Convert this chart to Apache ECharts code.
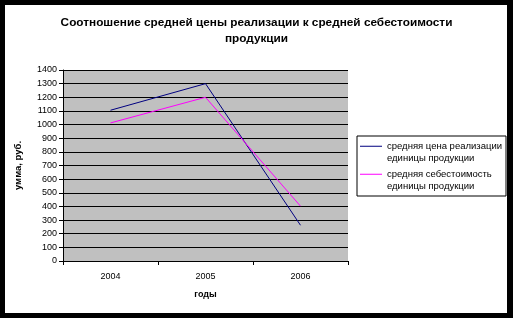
<!DOCTYPE html>
<html><head><meta charset="utf-8">
<script src="https://cdn.jsdelivr.net/npm/echarts@6/dist/echarts.min.js"></script>
<style>
html,body{margin:0;padding:0;background:#000;}
#bg{position:absolute;left:5px;top:5px;width:502px;height:308px;background:#fff;}
#main{position:absolute;left:0;top:0;width:513px;height:318px;}
</style></head>
<body><div id="bg"></div><div id="main"></div>
<script>
var categories = ['2004', '2005', '2006'];
var priceValues = [1105, 1300, 262];
var costValues = [1012, 1200, 402];
var seriesNames = ['средняя цена реализации\nединицы продукции', 'средняя себестоимость\nединицы продукции'];
var yMin = 0, yMax = 1400, yStep = 100;

var font = '"Liberation Sans", Arial, sans-serif';
var legendIcon = 'path://M0,0L0.001,0L0,0.001Z M0,5.8L22,5.8L22,6.8L0,6.8Z M0,25L0.001,25L0,24.999Z';
var chart = echarts.init(document.getElementById('main'));
chart.setOption({
  backgroundColor: 'transparent',
  animation: false,
  textStyle: {fontFamily: font},
  title: {
    text: 'Соотношение средней цены реализации к средней себестоимости\nпродукции',
    left: 'center', top: 10,
    textStyle: {fontFamily: font, fontSize: 11.8, fontWeight: 'bold', color: '#000', lineHeight: 16}
  },
  legend: {
    orient: 'vertical',
    left: 357, top: 136,
    padding: [4, 4, 3, 3],
    itemGap: 3,
    itemWidth: 22, itemHeight: 25,
    icon: legendIcon,
    borderColor: '#000', borderWidth: 1,
    backgroundColor: '#fff',
    textStyle: {fontFamily: font, fontSize: 9.5, color: '#000', lineHeight: 12.5},
    data: seriesNames
  },
  grid: {left: 63, top: 70, width: 285, height: 191, show: true, backgroundColor: '#c0c0c0', borderWidth: 0},
  xAxis: {
    type: 'category', data: categories, boundaryGap: true,
    axisLine: {lineStyle: {color: '#000', width: 1}},
    axisTick: {show: true, length: 4, lineStyle: {color: '#000'}},
    axisLabel: {color: '#000', fontSize: 9, margin: 11, fontFamily: font},
    name: 'годы', nameLocation: 'middle', nameGap: 29,
    nameTextStyle: {fontFamily: font, fontSize: 9, fontWeight: 'bold', color: '#000'}
  },
  yAxis: {
    type: 'value', min: yMin, max: yMax, interval: yStep,
    axisLine: {show: true, lineStyle: {color: '#000', width: 1}},
    axisTick: {show: true, length: 4, lineStyle: {color: '#000'}},
    axisLabel: {color: '#000', fontSize: 9, margin: 6, fontFamily: font, formatter: function (v) { return String(v); }},
    splitLine: {show: true, lineStyle: {color: '#000', width: 1}},
    name: 'умма, руб.', nameLocation: 'middle', nameGap: 40, nameRotate: 90,
    nameTextStyle: {fontFamily: font, fontSize: 9.5, fontWeight: 'bold', color: '#000'}
  },
  series: [
    {name: seriesNames[0], type: 'line', data: priceValues, symbol: 'none', lineStyle: {color: '#000080', width: 1}, itemStyle: {color: '#000080'}},
    {name: seriesNames[1], type: 'line', data: costValues, symbol: 'none', lineStyle: {color: '#ff00ff', width: 1}, itemStyle: {color: '#ff00ff'}}
  ]
});
</script></body></html>
